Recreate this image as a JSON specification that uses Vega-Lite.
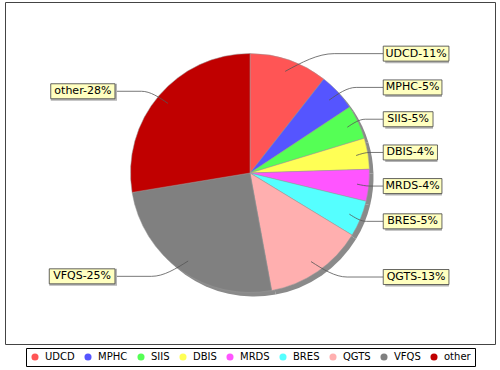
{
  "$schema": "https://vega.github.io/schema/vega-lite/v6.json",
  "width": 490,
  "height": 342,
  "autosize": {"type": "none"},
  "padding": {"left": 5, "top": 2, "right": 5, "bottom": 26},
  "background": "white",
  "config": {
    "view": {"stroke": "#444444", "strokeWidth": 1},
    "font": "DejaVu Sans",
    "legend": {"layout": {"bottom": {"anchor": "middle"}}}
  },
  "data": {
    "values": [
      {"cat": "UDCD", "v": 10.6},
      {"cat": "MPHC", "v": 5.1},
      {"cat": "SIIS", "v": 4.6},
      {"cat": "DBIS", "v": 4.2},
      {"cat": "MRDS", "v": 4.3},
      {"cat": "BRES", "v": 4.9},
      {"cat": "QGTS", "v": 13.4},
      {"cat": "VFQS", "v": 25.3},
      {"cat": "other", "v": 27.6}
    ]
  },
  "transform": [
    {"window": [{"op": "row_number", "as": "ord"}]},
    {"window": [{"op": "sum", "field": "v", "as": "cum"}], "sort": [{"field": "ord"}], "frame": [null, 0]},
    {"joinaggregate": [{"op": "sum", "field": "v", "as": "tot"}]},
    {"calculate": "2*PI*(datum.cum - datum.v/2)/datum.tot", "as": "mid"},
    {"calculate": "datum.mid < PI ? 1 : -1", "as": "side"},
    {"calculate": "datum.cat + '-' + round(100*datum.v/datum.tot) + '%'", "as": "label"},
    {"calculate": "datum.side > 0 ? 1.115 : -1.13", "as": "lx"},
    {"calculate": "1.057*cos(datum.mid)", "as": "ly"},
    {"calculate": "7.7*length(replace(datum.label, regexp('[^A-HJ-Z]','g'), '')) + 3.24*length(replace(datum.label, regexp('[^I]','g'), '')) + 7*length(replace(datum.label, regexp('[^0-9]','g'), '')) + 5.86*length(replace(datum.label, regexp('[^a-z]','g'), '')) + 14.4 + 6.5", "as": "w"},
    {"calculate": "datum.lx + datum.side*datum.w/119.5", "as": "bx2"},
    {"calculate": "datum.lx + datum.side*datum.w/2/119.5", "as": "tx"},
    {"calculate": "datum.ly - 7.5/119.5", "as": "by1"},
    {"calculate": "datum.ly + 7.5/119.5", "as": "by2"}
  ],
  "layer": [
    {
      "mark": {"type": "arc", "radius": 119.5, "color": "#8a8a8a", "xOffset": 4, "yOffset": 4},
      "encoding": {
        "theta": {"field": "v", "type": "quantitative", "stack": true},
        "order": {"field": "ord", "type": "quantitative"}
      }
    },
    {
      "mark": {"type": "arc", "radius": 119.5, "stroke": "#999999", "strokeWidth": 0.5},
      "encoding": {
        "theta": {"field": "v", "type": "quantitative", "stack": true},
        "order": {"field": "ord", "type": "quantitative"},
        "color": {
          "field": "cat",
          "type": "nominal",
          "scale": {
            "domain": ["UDCD", "MPHC", "SIIS", "DBIS", "MRDS", "BRES", "QGTS", "VFQS", "other"],
            "range": ["#FF5555", "#5555FF", "#55FF55", "#FFFF55", "#FF55FF", "#55FFFF", "#FFAFAF", "#808080", "#C00000"]
          },
          "legend": {
            "orient": "bottom",
            "direction": "horizontal",
            "columns": 9,
            "title": null,
            "symbolType": "circle",
            "symbolSize": 50,
            "symbolStrokeWidth": 0,
            "symbolOpacity": 1,
            "labelFont": "DejaVu Sans",
            "labelFontSize": 10,
            "labelColor": "black",
            "labelOffset": 5,
            "columnPadding": 8,
            "strokeColor": "black",
            "padding": 4,
            "offset": 4
          }
        }
      }
    },
    {
      "transform": [
        {"calculate": "[0,1,2]", "as": "pt"},
        {"flatten": ["pt"]},
        {"calculate": "0.9*sin(datum.mid)", "as": "ax"},
        {"calculate": "0.9*cos(datum.mid)", "as": "ay"},
        {"calculate": "datum.pt == 0 ? datum.ax : (datum.pt == 1 ? (datum.ax + datum.lx)/2 : datum.lx)", "as": "px"},
        {"calculate": "datum.pt == 0 ? datum.ay : datum.ly", "as": "py"}
      ],
      "mark": {"type": "line", "interpolate": "monotone", "stroke": "#555555", "strokeWidth": 0.8},
      "encoding": {
        "x": {"field": "px", "type": "quantitative", "scale": {"domain": [-2.0502, 2.0502], "nice": false, "zero": false}, "axis": null},
        "y": {"field": "py", "type": "quantitative", "scale": {"domain": [-1.431, 1.431], "nice": false, "zero": false}, "axis": null},
        "detail": {"field": "cat", "type": "nominal"}
      }
    },
    {
      "mark": {"type": "rect", "fill": "#b4b4b4", "xOffset": 2, "yOffset": 2},
      "encoding": {
        "x": {"field": "lx", "type": "quantitative"},
        "x2": {"field": "bx2"},
        "y": {"field": "by1", "type": "quantitative"},
        "y2": {"field": "by2"}
      }
    },
    {
      "mark": {"type": "rect", "fill": "#FFFFC0", "stroke": "#444444", "strokeWidth": 0.8},
      "encoding": {
        "x": {"field": "lx", "type": "quantitative"},
        "x2": {"field": "bx2"},
        "y": {"field": "by1", "type": "quantitative"},
        "y2": {"field": "by2"}
      }
    },
    {
      "mark": {"type": "text", "align": "center", "baseline": "middle", "font": "DejaVu Sans", "fontSize": 11, "color": "black"},
      "encoding": {
        "x": {"field": "tx", "type": "quantitative"},
        "y": {"field": "ly", "type": "quantitative"},
        "text": {"field": "label", "type": "nominal"}
      }
    }
  ]
}
